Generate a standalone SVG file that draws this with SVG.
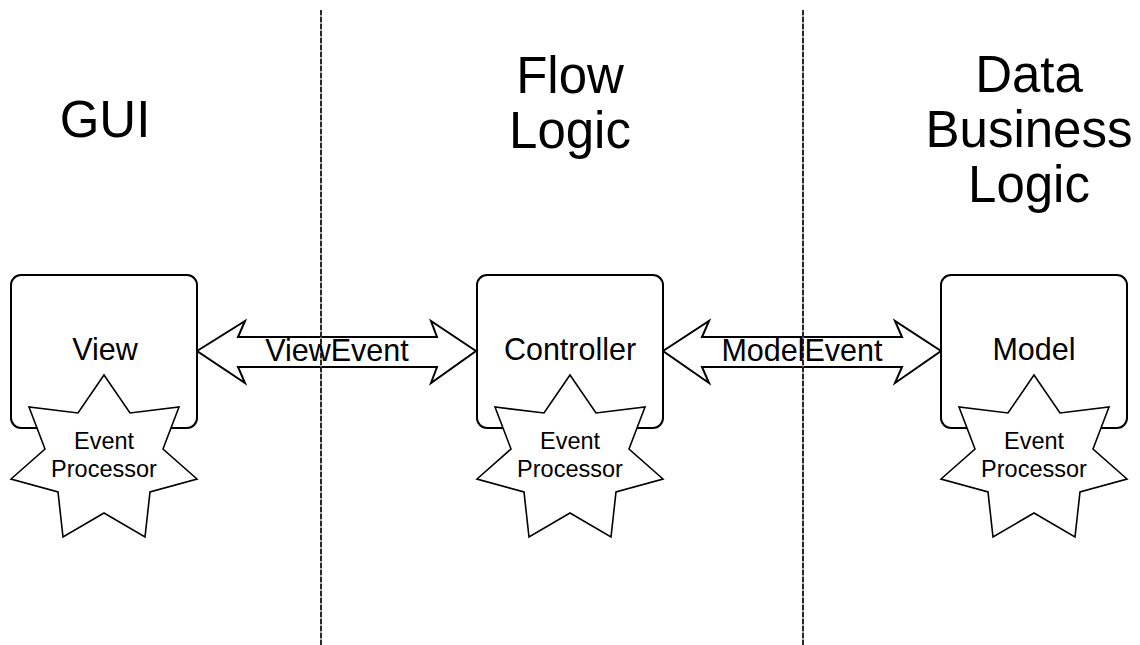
<svg xmlns="http://www.w3.org/2000/svg" width="1140" height="645" viewBox="0 0 1140 645">
  <defs>
    <style>
      text { font-family: "Liberation Sans", Arial, sans-serif; fill: #000; text-anchor: middle; }
      .title { font-size: 51px; }
      .label { font-size: 30.5px; }
      .small { font-size: 23.5px; }
      .box { fill: #fff; stroke: #000; stroke-width: 2; }
      .star { fill: #fff; stroke: #000; stroke-width: 1.6; stroke-linejoin: miter; }
      .arrow { fill: #fff; stroke: #000; stroke-width: 2; stroke-linejoin: miter; }
      .sepBase { stroke: #888; stroke-width: 1.5; }
      .sepDash { stroke: #000; stroke-width: 1.5; stroke-dasharray: 5 2; }
    </style>
    <!-- seven-pointed burst, centred on x = 0 -->
    <polygon id="burst" class="star" points="0,375 26,413 75,407 59,449 93,479 46,492 41,537 0,513 -41,537 -46,492 -93,479 -59,449 -75,407 -26,413"/>
  </defs>

  <rect width="1140" height="645" fill="#fff"/>

  <!-- layer titles -->
  <g id="titles">
    <text class="title" x="105" y="137">GUI</text>
    <text class="title" x="570" y="93">Flow</text>
    <text class="title" x="570" y="148">Logic</text>
    <text class="title" x="1029" y="92">Data</text>
    <text class="title" x="1029" y="147">Business</text>
    <text class="title" x="1029" y="202">Logic</text>
  </g>

  <!-- connectors: double block arrows with event labels -->
  <g id="connectors">
    <polygon class="arrow" points="197,351 245,321 238,337 437,337 431,321 476,351 431,383 437,367 238,367 245,383"/>
    <polygon class="arrow" points="663,351 709,321 702,337 902,337 895,321 941,351 895,383 902,367 702,367 709,383"/>
  </g>

  <!-- layer separators -->
  <g id="separators">
    <line class="sepBase" x1="321" y1="10" x2="321" y2="645"/>
    <line class="sepDash" x1="321" y1="10" x2="321" y2="645"/>
    <line class="sepBase" x1="803" y1="10" x2="803" y2="645"/>
    <line class="sepDash" x1="803" y1="10" x2="803" y2="645"/>
  </g>

  <g id="connector-labels">
    <text class="label" x="337" y="361">ViewEvent</text>
    <text class="label" x="802" y="361">ModelEvent</text>
  </g>

  <g id="view">
    <rect class="box" x="11" y="275" width="186" height="153" rx="10"/>
    <text class="label" x="105" y="360">View</text>
    <use href="#burst" x="104"/>
    <text class="small" x="104" y="449">Event</text>
    <text class="small" x="104" y="477">Processor</text>
  </g>

  <g id="controller">
    <rect class="box" x="477" y="275" width="186" height="153" rx="10"/>
    <text class="label" x="570" y="360">Controller</text>
    <use href="#burst" x="570"/>
    <text class="small" x="570" y="449">Event</text>
    <text class="small" x="570" y="477">Processor</text>
  </g>

  <g id="model">
    <rect class="box" x="941" y="275" width="186" height="153" rx="10"/>
    <text class="label" x="1034" y="360">Model</text>
    <use href="#burst" x="1034"/>
    <text class="small" x="1034" y="449">Event</text>
    <text class="small" x="1034" y="477">Processor</text>
  </g>
</svg>
